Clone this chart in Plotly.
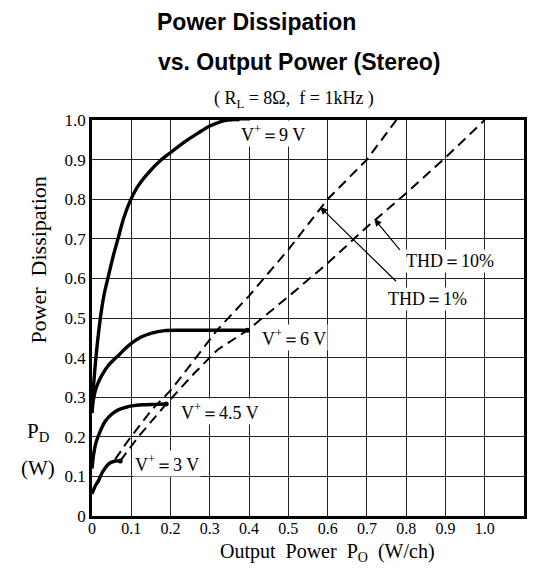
import plotly.graph_objects as go

# ---- data ----
v9_x = [0, 0.004, 0.01, 0.02, 0.03, 0.042, 0.055, 0.067, 0.08, 0.097, 0.115, 0.143, 0.177, 0.2, 0.236, 0.27, 0.3, 0.345, 0.40]
v9_y = [0.28, 0.33, 0.40, 0.49, 0.555, 0.607, 0.66, 0.703, 0.75, 0.795, 0.83, 0.866, 0.90, 0.918, 0.945, 0.967, 0.985, 1.0, 1.0]

v6_x = [0, 0.003, 0.008, 0.015, 0.025, 0.04, 0.055, 0.07, 0.085, 0.1, 0.125, 0.152, 0.185, 0.22, 0.3, 0.396]
v6_y = [0.26, 0.29, 0.315, 0.335, 0.355, 0.378, 0.394, 0.408, 0.423, 0.436, 0.452, 0.462, 0.468, 0.469, 0.469, 0.469]

v45_x = [0, 0.004, 0.01, 0.02, 0.034, 0.05, 0.067, 0.085, 0.101, 0.13, 0.16, 0.189]
v45_y = [0.12, 0.155, 0.185, 0.212, 0.24, 0.257, 0.268, 0.274, 0.278, 0.281, 0.282, 0.283]

v3_x = [0, 0.008, 0.017, 0.025, 0.034, 0.042, 0.05, 0.06, 0.072]
v3_y = [0.056, 0.075, 0.09, 0.108, 0.122, 0.131, 0.136, 0.139, 0.139]

thd1_x = [0.059, 0.093, 0.152, 0.202, 0.261, 0.32, 0.4, 0.501, 0.6, 0.7, 0.775]
thd1_y = [0.143, 0.192, 0.268, 0.319, 0.395, 0.471, 0.556, 0.674, 0.80, 0.90, 1.0]

thd10_x = [0.072, 0.118, 0.189, 0.261, 0.32, 0.396, 0.501, 0.602, 0.7, 0.8, 0.9, 1.0]
thd10_y = [0.139, 0.20, 0.283, 0.361, 0.42, 0.469, 0.555, 0.64, 0.73, 0.815, 0.905, 1.0]

x_ticks = [0, 0.1, 0.2, 0.3, 0.4, 0.5, 0.6, 0.7, 0.8, 0.9, 1.0, 1.1]
x_tick_text = ["0", "0.1", "0.2", "0.3", "0.4", "0.5", "0.6", "0.7", "0.8", "0.9", "1.0", "1.1"]
y_ticks = [0, 0.1, 0.2, 0.3, 0.4, 0.5, 0.6, 0.7, 0.8, 0.9, 1.0]
y_tick_text = ["0", "0.1", "0.2", "0.3", "0.4", "0.5", "0.6", "0.7", "0.8", "0.9", "1.0"]

curve_labels = ["V<sup>+</sup>＝9 V", "V<sup>+</sup>＝6 V", "V<sup>+</sup>＝4.5 V", "V<sup>+</sup>＝3 V"]
curve_label_x = [0.46, 0.515, 0.326, 0.19]
curve_label_y = [0.966, 0.45, 0.263, 0.133]

SERIF = "Liberation Serif"
fig = go.Figure()

solid = dict(color="black", width=3.4, shape="spline", smoothing=0.8)
for xs, ys in [(v9_x, v9_y), (v6_x, v6_y), (v45_x, v45_y), (v3_x, v3_y)]:
    fig.add_trace(go.Scatter(x=xs, y=ys, mode="lines", line=solid, hoverinfo="skip"))

dash = dict(color="black", width=2, dash="10px,6px")
fig.add_trace(go.Scatter(x=thd1_x, y=thd1_y, mode="lines", line=dash, hoverinfo="skip"))
fig.add_trace(go.Scatter(x=thd10_x, y=thd10_y, mode="lines", line=dash, hoverinfo="skip"))

# end dots
fig.add_trace(go.Scatter(x=[v6_x[-1], v45_x[-1], v3_x[-1]], y=[v6_y[-1], v45_y[-1], v3_y[-1]],
                         mode="markers", marker=dict(color="black", size=5), hoverinfo="skip"))

annotations = []
for t, x, y in zip(curve_labels, curve_label_x, curve_label_y):
    annotations.append(dict(x=x, y=y, xref="x", yref="y", text=t, showarrow=False,
                            xanchor="center", yanchor="middle",
                            font=dict(family=SERIF, size=18, color="black"),
                            bgcolor="white", borderpad=1))

# THD labels with arrows
annotations.append(dict(x=0.719, y=0.75, xref="x", yref="y", ax=0.787, ay=0.668, axref="x", ayref="y",
                        text="", showarrow=True, arrowhead=2, arrowsize=1.2, arrowwidth=1.2, arrowcolor="black"))
annotations.append(dict(x=0.581, y=0.78, xref="x", yref="y", ax=0.778, ay=0.589, axref="x", ayref="y",
                        text="", showarrow=True, arrowhead=2, arrowsize=1.2, arrowwidth=1.2, arrowcolor="black"))
annotations.append(dict(x=0.912, y=0.643, xref="x", yref="y", text="THD＝10%", showarrow=False,
                        xanchor="center", yanchor="middle",
                        font=dict(family=SERIF, size=18, color="black"), bgcolor="white", borderpad=1))
annotations.append(dict(x=0.854, y=0.547, xref="x", yref="y", text="THD＝1%", showarrow=False,
                        xanchor="center", yanchor="middle",
                        font=dict(family=SERIF, size=18, color="black"), bgcolor="white", borderpad=1))

# titles
TITLE_FONT = dict(family="Liberation Sans", size=23, color="black")
annotations.append(dict(x=0.149, y=1.282, xref="paper", yref="paper", xanchor="left", yanchor="top",
                        text="<b>Power Dissipation</b>", showarrow=False, font=TITLE_FONT, borderpad=0))
annotations.append(dict(x=0.149, y=1.146, xref="paper", yref="paper", xanchor="left", yanchor="middle",
                        text="<b>vs. Output Power (Stereo)</b>", showarrow=False, font=TITLE_FONT))
annotations.append(dict(x=0.467, y=1.051, xref="paper", yref="paper", xanchor="center", yanchor="middle",
                        text="( R<sub>L</sub> = 8Ω,  f = 1kHz )", showarrow=False,
                        font=dict(family=SERIF, size=18, color="black")))

# axis titles
AX_FONT = dict(family=SERIF, size=21, color="black")
annotations.append(dict(x=-0.124, y=0.646, xref="paper", yref="paper", textangle=-90,
                        xanchor="center", yanchor="middle",
                        text="Power  Dissipation", showarrow=False,
                        font=dict(family=SERIF, size=22, color="black")))
annotations.append(dict(x=-0.124, y=0.212, xref="paper", yref="paper", xanchor="center", yanchor="middle",
                        text="P<sub>D</sub>", showarrow=False, font=AX_FONT))
annotations.append(dict(x=-0.124, y=0.121, xref="paper", yref="paper", xanchor="center", yanchor="middle",
                        text="(W)", showarrow=False, font=AX_FONT))
annotations.append(dict(x=0.545, y=-0.127, xref="paper", yref="paper", xanchor="center", yanchor="bottom",
                        text="Output  Power  P<sub>O</sub>  (W/ch)", showarrow=False, borderpad=0,
                        font=dict(family=SERIF, size=20, color="black")))

# the page body adds an 8px margin; size the figure so the page fits the window
fig.update_layout(
    width=524, height=558,
    margin=dict(l=84, r=5, t=112, b=50),
    paper_bgcolor="white", plot_bgcolor="white",
    showlegend=False,
    annotations=annotations,
)
fig.update_xaxes(range=[0, 1.1], tickvals=x_ticks, ticktext=x_tick_text,
                 showgrid=True, gridcolor="#222", gridwidth=1,
                 showline=True, linecolor="black", linewidth=2.5, mirror=True,
                 zeroline=False, ticks="", ticklabelstandoff=-4,
                 tickfont=dict(family=SERIF, size=16, color="black"))
fig.update_yaxes(range=[0, 1.0], tickvals=y_ticks, ticktext=y_tick_text,
                 showgrid=True, gridcolor="#222", gridwidth=1,
                 showline=True, linecolor="black", linewidth=2.5, mirror=True,
                 zeroline=False, ticks="", tickfont=dict(family=SERIF, size=17, color="black"))

fig.write_html("out.html")
